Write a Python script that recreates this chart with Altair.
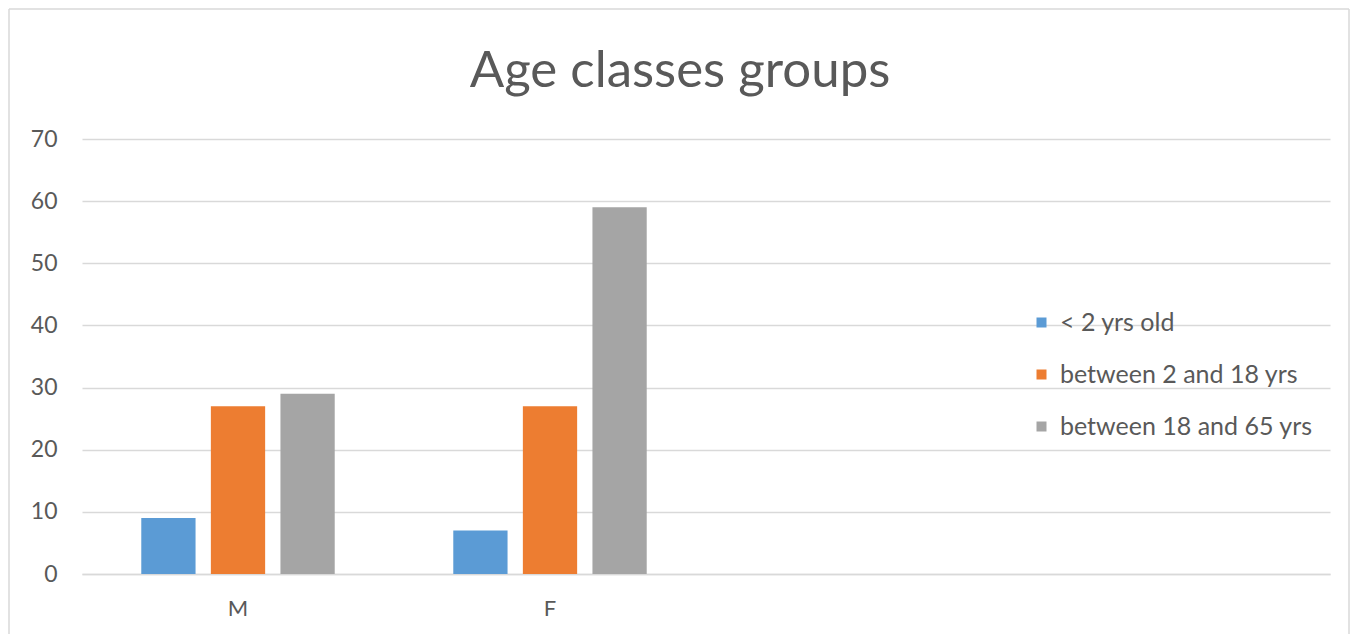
import altair as alt
import pandas as pd

sexes = ["M", "M", "M", "F", "F", "F"]
age_classes = ["< 2 yrs old", "between 2 and 18 yrs", "between 18 and 65 yrs"]
classes = age_classes * 2
counts = [9, 27, 29, 7, 27, 59]
x_domain = ["M", "F", "_c3", "_c4"]
colors = ["#5B9BD5", "#ED7D31", "#A5A5A5"]

df = pd.DataFrame({"sex": sexes, "age": classes, "count": counts})

FONT = "Lato"
TXT = "#595959"
GRID = "#D9D9D9"

bars = alt.Chart(df).mark_bar().encode(
    x=alt.X("sex:N", sort=x_domain,
            scale=alt.Scale(domain=x_domain, paddingInner=0.38, paddingOuter=0.19),
            axis=alt.Axis(title=None, labelAngle=0, ticks=False, domain=True,
                          domainColor=GRID, domainWidth=1.5,
                          labelExpr="(datum.label == 'M' || datum.label == 'F') ? datum.label : ''",
                          labelFontSize=22, labelColor=TXT, labelFont=FONT, labelPadding=24)),
    xOffset=alt.XOffset("age:N", sort=age_classes,
                        scale=alt.Scale(paddingInner=0.22, paddingOuter=0)),
    y=alt.Y("count:Q", scale=alt.Scale(domain=[0, 70]),
            axis=alt.Axis(title=None, values=[0, 10, 20, 30, 40, 50, 60, 70],
                          ticks=False, domain=False, grid=True, gridColor=GRID,
                          gridWidth=1.5, labelFontSize=23, labelColor=TXT,
                          labelFont=FONT, labelPadding=25)),
    color=alt.Color("age:N", sort=age_classes,
                    scale=alt.Scale(domain=age_classes, range=colors),
                    legend=alt.Legend(title=None, orient="none", legendX=947, legendY=171,
                                      symbolType="square", symbolSize=100,
                                      symbolStrokeWidth=0, labelFontSize=25,
                                      labelColor=TXT, labelFont=FONT, labelOffset=6,
                                      labelLimit=500, rowPadding=26)),
)

border_df = pd.DataFrame({"k": [0]})
left = alt.Chart(border_df).mark_rule(color=GRID, strokeWidth=1.5).encode(
    x=alt.value(-73), y=alt.value(-130), y2=alt.value(495))
right = alt.Chart(border_df).mark_rule(color=GRID, strokeWidth=1.5).encode(
    x=alt.value(1267), y=alt.value(-130), y2=alt.value(495))
top = alt.Chart(border_df).mark_rule(color=GRID, strokeWidth=1.5).encode(
    x=alt.value(-73), x2=alt.value(1267), y=alt.value(-130))

chart = alt.layer(bars, left, right, top).properties(
    width=1248, height=435,
    title=alt.TitleParams("Age classes groups", fontSize=51, font=FONT, fontWeight="normal",
                          color=TXT, anchor="middle", dx=-26, offset=0, dy=90),
    padding={"left": 74, "top": 131, "right": 20, "bottom": 60},
    autosize=alt.AutoSizeParams(type="none"),
).configure_view(stroke=None)

chart.save("out.html", embed_options={"renderer": "svg", "actions": False})
